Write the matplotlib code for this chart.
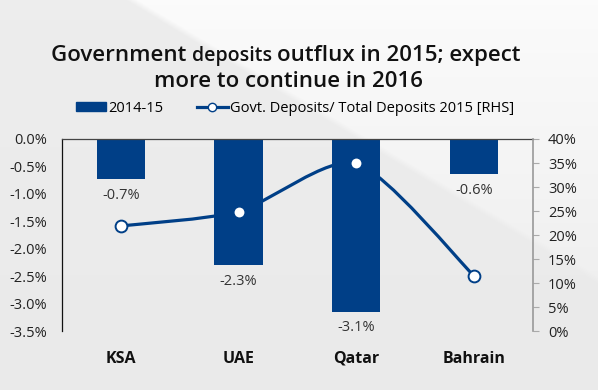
import numpy as np
import matplotlib.pyplot as plt
from matplotlib.path import Path
from matplotlib.patches import PathPatch, Patch
from matplotlib.lines import Line2D

# donnees
pays = ['KSA', 'UAE', 'Qatar', 'Bahrain']
flux_2014_15 = [-0.73, -2.3, -3.15, -0.64]       # axe gauche (%)
ratio_depots_2015 = [21.9, 24.9, 34.9, 11.5]     # axe droit (%)
etiquettes = ['-0.7%', '-2.3%', '-3.1%', '-0.6%']

bleu = '#003f87'

plt.rcParams['font.family'] = ['Open Sans', 'DejaVu Sans']

fig = plt.figure(figsize=(5.98, 3.9), dpi=100)
fig.patch.set_facecolor('#ececec')

# fond gris avec une zone plus claire a droite de la diagonale
bg = fig.add_axes([0, 0, 1, 1], zorder=-10)
yy, xx = np.mgrid[0:390, 0:598].astype(float)
d = (xx - 126) - yy * 217 / 130
s = np.clip(d / 12, 0, 1)
v = 0.918 + 0.055 * s * np.clip(1 - yy / 420, 0, 1) + 0.012 * (1 - yy / 390)
bg.imshow(np.dstack([v, v, v]), extent=[0, 1, 0, 1], aspect='auto', origin='upper')
bg.set_axis_off()

ax = fig.add_axes([0.1037, 0.151, 0.7873, 0.4926])
ax.set_facecolor('none')
x = np.arange(len(pays))

ax.bar(x, flux_2014_15, width=0.41, color=bleu, zorder=2)
for xi, v_, lab in zip(x, flux_2014_15, etiquettes):
    ax.annotate(lab, (xi, v_), xytext=(0, -11.5), textcoords='offset points',
                ha='center', va='center', fontsize=10.5, color='#333333')

ax.set_xlim(-0.5, 3.5)
ax.set_ylim(-3.5, 0)
graduations = np.arange(-3.5, 0.01, 0.5)
ax.set_yticks(graduations)
ax.set_yticklabels(['%.1f%%' % g for g in graduations], fontsize=10.5, color='#222222')
ax.tick_params(axis='y', length=0, pad=11)
ax.set_xticks(x)
ax.set_xticklabels(pays, fontsize=11.5, fontweight='bold', color='#111111')
ax.tick_params(axis='x', length=0, pad=14)
for s_ in ['right', 'bottom']:
    ax.spines[s_].set_visible(False)
ax.spines['left'].set_color('#111111')
ax.spines['top'].set_color('#444444')
ax.spines['left'].set_linewidth(0.9)
ax.spines['top'].set_linewidth(0.9)

ax2 = ax.twinx()
ax2.set_ylim(0, 40)
ax2.set_yticks(np.arange(0, 41, 5))
ax2.set_yticklabels(['%d%%' % g for g in np.arange(0, 41, 5)], fontsize=10.5, color='#222222')
ax2.tick_params(axis='y', length=4, color='#aaaaaa', pad=7)
for s_ in ['left', 'top', 'bottom']:
    ax2.spines[s_].set_visible(False)
ax2.spines['right'].set_color('#999999')
ax2.spines['right'].set_linewidth(1.2)

# ligne lissee (courbes de Bezier) passant par les points
px = np.array(x, dtype=float)
py = np.array(ratio_depots_2015, dtype=float)
k = 1 / 8
verts = [(px[0], py[0])]
codes = [Path.MOVETO]
n = len(px)
for i in range(n - 1):
    p0 = (px[max(i - 1, 0)], py[max(i - 1, 0)])
    p1 = (px[i], py[i])
    p2 = (px[i + 1], py[i + 1])
    p3 = (px[min(i + 2, n - 1)], py[min(i + 2, n - 1)])
    c1 = (p1[0] + (p2[0] - p0[0]) * k, p1[1] + (p2[1] - p0[1]) * k)
    c2 = (p2[0] - (p3[0] - p1[0]) * k, p2[1] - (p3[1] - p1[1]) * k)
    verts += [c1, c2, p2]
    codes += [Path.CURVE4] * 3
ax2.add_patch(PathPatch(Path(verts, codes), fill=False, edgecolor=bleu, lw=2.3, zorder=3))
ax2.plot(px, py, ls='none', marker='o', ms=8.5, mfc='white', mec=bleu, mew=1.4, zorder=4)

# titre avec "deposits" plus petit
t1 = fig.text(0.085, 0.843, 'Government ', fontsize=16, fontweight='semibold', color='#111111', va='baseline')
t2 = ax.annotate('deposits ', xycoords=t1, xy=(1, 0), va='bottom', fontsize=14,
                 fontweight='semibold', color='#111111')
t3 = ax.annotate('outflux in 2015; expect', xycoords=t2, xy=(1, 0), va='bottom', fontsize=16,
                 fontweight='semibold', color='#111111')
fig.text(0.483, 0.777, 'more to continue in 2016', fontsize=16, fontweight='semibold',
         color='#111111', ha='center', va='baseline')

handles = [Patch(color=bleu),
           Line2D([], [], color=bleu, lw=2.3, marker='o', ms=6, mfc='white', mec=bleu)]
fig.legend(handles, ['2014-15', 'Govt. Deposits/ Total Deposits 2015 [RHS]'],
           loc='center', bbox_to_anchor=(0.493, 0.723), ncol=2, frameon=False,
           fontsize=10.5, handlelength=2.1, handletextpad=0.15, columnspacing=2.3,
           handleheight=0.55)

plt.savefig('out.png', dpi=100, facecolor=fig.get_facecolor())
